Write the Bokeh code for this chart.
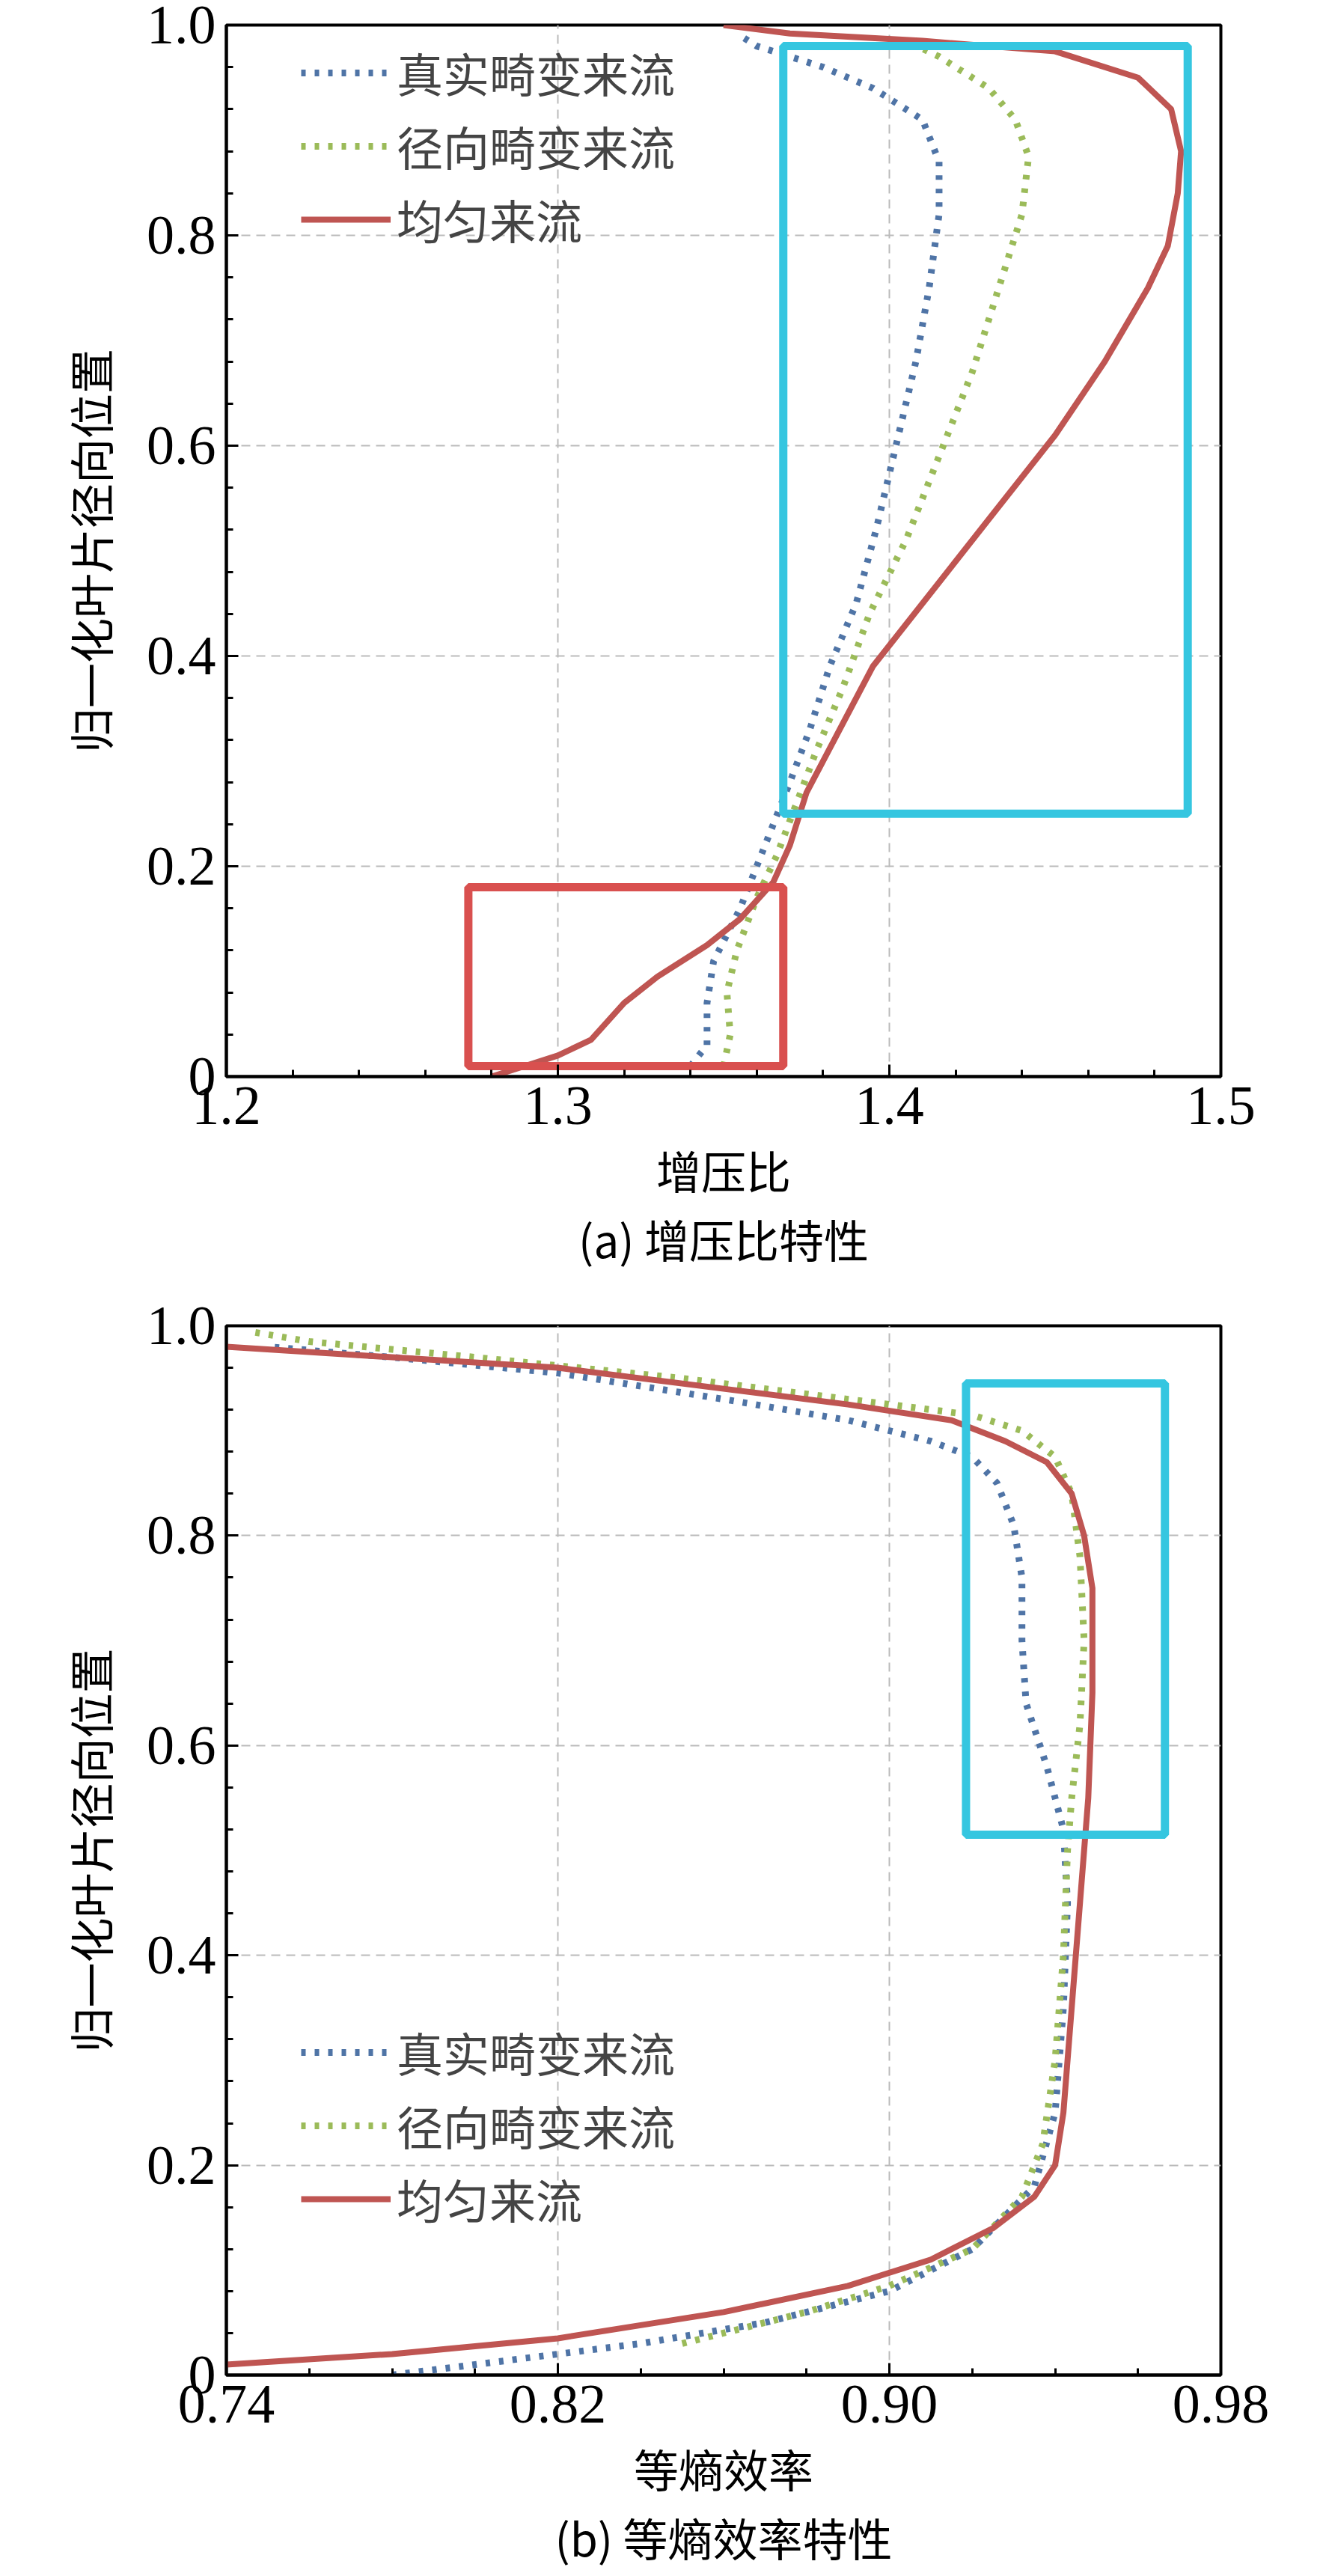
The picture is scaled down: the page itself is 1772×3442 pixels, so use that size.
from bokeh.plotting import figure
from bokeh.layouts import column
from bokeh.models import FixedTicker, Title, Legend, LegendItem
from bokeh.embed import file_html
from bokeh.resources import INLINE

# ---- data (a) pressure ratio ----
a_uni_x = [1.28,1.29,1.30,1.31,1.32,1.33,1.345,1.355,1.365,1.37,1.375,1.385,1.395,1.41,1.43,1.45,1.465,1.478,1.484,1.487,1.488,1.485,1.475,1.45,1.41,1.37,1.35]
a_uni_y = [0.0,0.01,0.02,0.035,0.07,0.095,0.125,0.15,0.185,0.22,0.27,0.33,0.39,0.45,0.53,0.61,0.68,0.75,0.79,0.84,0.88,0.92,0.95,0.975,0.985,0.992,1.0]
a_real_x = [1.34,1.345,1.345,1.347,1.355,1.36,1.365,1.37,1.376,1.382,1.39,1.396,1.402,1.408,1.412,1.415,1.415,1.41,1.395,1.38,1.36,1.355]
a_real_y = [0.01,0.03,0.07,0.11,0.16,0.2,0.24,0.28,0.33,0.39,0.45,0.52,0.6,0.68,0.75,0.82,0.87,0.91,0.94,0.96,0.98,0.99]
a_rad_x = [1.35,1.352,1.351,1.354,1.36,1.366,1.372,1.378,1.386,1.394,1.405,1.415,1.425,1.433,1.44,1.442,1.438,1.43,1.415,1.405]
a_rad_y = [0.01,0.04,0.08,0.12,0.17,0.21,0.26,0.31,0.37,0.44,0.51,0.59,0.67,0.75,0.82,0.875,0.91,0.94,0.97,0.985]
a_boxes = dict(left=[1.368,1.273], right=[1.49,1.368], bottom=[0.25,0.01], top=[0.98,0.18])

# ---- data (b) efficiency ----
b_uni_x = [0.74,0.78,0.82,0.86,0.89,0.91,0.925,0.935,0.94,0.942,0.944,0.946,0.948,0.949,0.949,0.947,0.944,0.938,0.928,0.915,0.89,0.86,0.82,0.78,0.74]
b_uni_y = [0.01,0.02,0.035,0.06,0.085,0.11,0.14,0.17,0.2,0.25,0.35,0.45,0.55,0.65,0.75,0.8,0.84,0.87,0.89,0.91,0.925,0.94,0.96,0.97,0.98]
b_real_x = [0.78,0.80,0.82,0.84,0.87,0.90,0.92,0.935,0.94,0.942,0.943,0.942,0.938,0.933,0.932,0.932,0.93,0.926,0.92,0.91,0.89,0.86,0.82,0.78,0.75]
b_real_y = [0.0,0.01,0.02,0.03,0.05,0.08,0.12,0.18,0.25,0.35,0.45,0.52,0.58,0.64,0.7,0.76,0.81,0.85,0.875,0.89,0.91,0.93,0.955,0.97,0.98]
b_rad_x = [0.85,0.88,0.90,0.92,0.932,0.937,0.94,0.942,0.943,0.944,0.946,0.947,0.946,0.944,0.94,0.932,0.92,0.89,0.85,0.80,0.76,0.745]
b_rad_y = [0.03,0.06,0.085,0.12,0.17,0.22,0.3,0.4,0.5,0.55,0.62,0.7,0.78,0.84,0.875,0.9,0.915,0.93,0.95,0.97,0.985,0.995]
b_boxes = dict(left=[0.9185], right=[0.9665], bottom=[0.515], top=[0.945])

names = ["真实畸变来流", "径向畸变来流", "均匀来流"]
BLUE, GREEN, RED, CYAN = "#4f74a6", "#9bbb59", "#bf5552", "#35c6e0"
box_colors_a = [CYAN, "#d9504f"]
box_colors_b = [CYAN]

SERIF = "Liberation Serif"
CJK = "Noto Sans CJK SC"


def make(xr, xt, xminor, xfmt, data, boxes, bcols, xlabel, caption, top_border, height, legend_loc):
    p = figure(width=1740, height=height, x_range=xr, y_range=(0, 1),
               output_backend="svg", toolbar_location=None,
               min_border_left=302, min_border_right=109, min_border_top=top_border,
               min_border_bottom=height - top_border - 1405)
    p.outline_line_color = "black"
    p.outline_line_width = 4
    p.background_fill_color = "white"
    for ax in (p.xaxis[0], p.yaxis[0]):
        ax.axis_line_width = 4
        ax.major_tick_in = 16
        ax.major_tick_out = 0
        ax.minor_tick_in = 9
        ax.minor_tick_out = 0
        ax.major_tick_line_width = 3
        ax.minor_tick_line_width = 3
        ax.major_label_text_font = SERIF
        ax.major_label_text_font_size = "74px"
        ax.major_label_text_color = "black"
        ax.axis_label_text_font = CJK
        ax.axis_label_text_font_size = "60px"
        ax.axis_label_text_font_style = "normal"
        ax.axis_label_text_color = "black"
    p.xaxis.ticker = FixedTicker(ticks=xt, minor_ticks=xminor)
    p.xaxis.major_label_overrides = {v: xfmt.format(v) for v in xt}
    yt = [0, 0.2, 0.4, 0.6, 0.8, 1.0]
    p.yaxis.ticker = FixedTicker(ticks=yt, minor_ticks=[i * 0.04 for i in range(26)])
    p.yaxis.major_label_overrides = {0: "0", 0.2: "0.2", 0.4: "0.4", 0.6: "0.6", 0.8: "0.8", 1.0: "1.0"}
    p.xaxis.major_label_standoff = 14
    p.yaxis.major_label_standoff = 14
    p.xaxis.axis_label = xlabel
    p.yaxis.axis_label = "归一化叶片径向位置"
    p.xaxis.axis_label_standoff = 14
    p.yaxis.axis_label_standoff = 30
    p.grid.grid_line_color = "#bbbbbb"
    p.grid.grid_line_dash = "12 8"
    p.grid.grid_line_width = 2
    (rx, ry), (gx, gy), (ux, uy) = data
    r1 = p.line(rx, ry, line_color=BLUE, line_width=9, line_dash="6 12")
    r2 = p.line(gx, gy, line_color=GREEN, line_width=9, line_dash="6 12")
    r3 = p.line(ux, uy, line_color=RED, line_width=8, line_join="round")
    p.quad(left=boxes["left"], right=boxes["right"], bottom=boxes["bottom"], top=boxes["top"],
           fill_alpha=0, line_color=bcols, line_width=11)
    leg = Legend(items=[LegendItem(label=names[0], renderers=[r1]),
                        LegendItem(label=names[1], renderers=[r2]),
                        LegendItem(label=names[2], renderers=[r3])],
                 location=legend_loc, label_text_font=CJK, label_text_font_size="62px",
                 glyph_width=120, glyph_height=56, spacing=8, padding=0, margin=0,
                 border_line_alpha=0, background_fill_alpha=0, label_standoff=8)
    p.add_layout(leg, "center")
    cap = Title(text=caption, align="center", text_font=CJK, text_font_size="60px",
                text_font_style="normal", text_color="black", standoff=0)
    p.add_layout(cap, "below")
    return p


pa = make((1.2, 1.5), [1.2, 1.3, 1.4, 1.5], [1.2 + i * 0.02 for i in range(16)], "{:.1f}",
          [(a_real_x, a_real_y), (a_rad_x, a_rad_y), (a_uni_x, a_uni_y)],
          a_boxes, box_colors_a, "增压比", "(a) 增压比特性", 33, 1718, (100, 1100))
pb = make((0.74, 0.98), [0.74, 0.82, 0.90, 0.98], [0.74 + i * 0.02 for i in range(13)], "{:.2f}",
          [(b_real_x, b_real_y), (b_rad_x, b_rad_y), (b_uni_x, b_uni_y)],
          b_boxes, box_colors_b, "等熵效率", "(b) 等熵效率特性", 53, 1714, (100, 190))

lay = column(pa, pb, spacing=0)
open("out.html", "w").write(file_html(lay, INLINE))
